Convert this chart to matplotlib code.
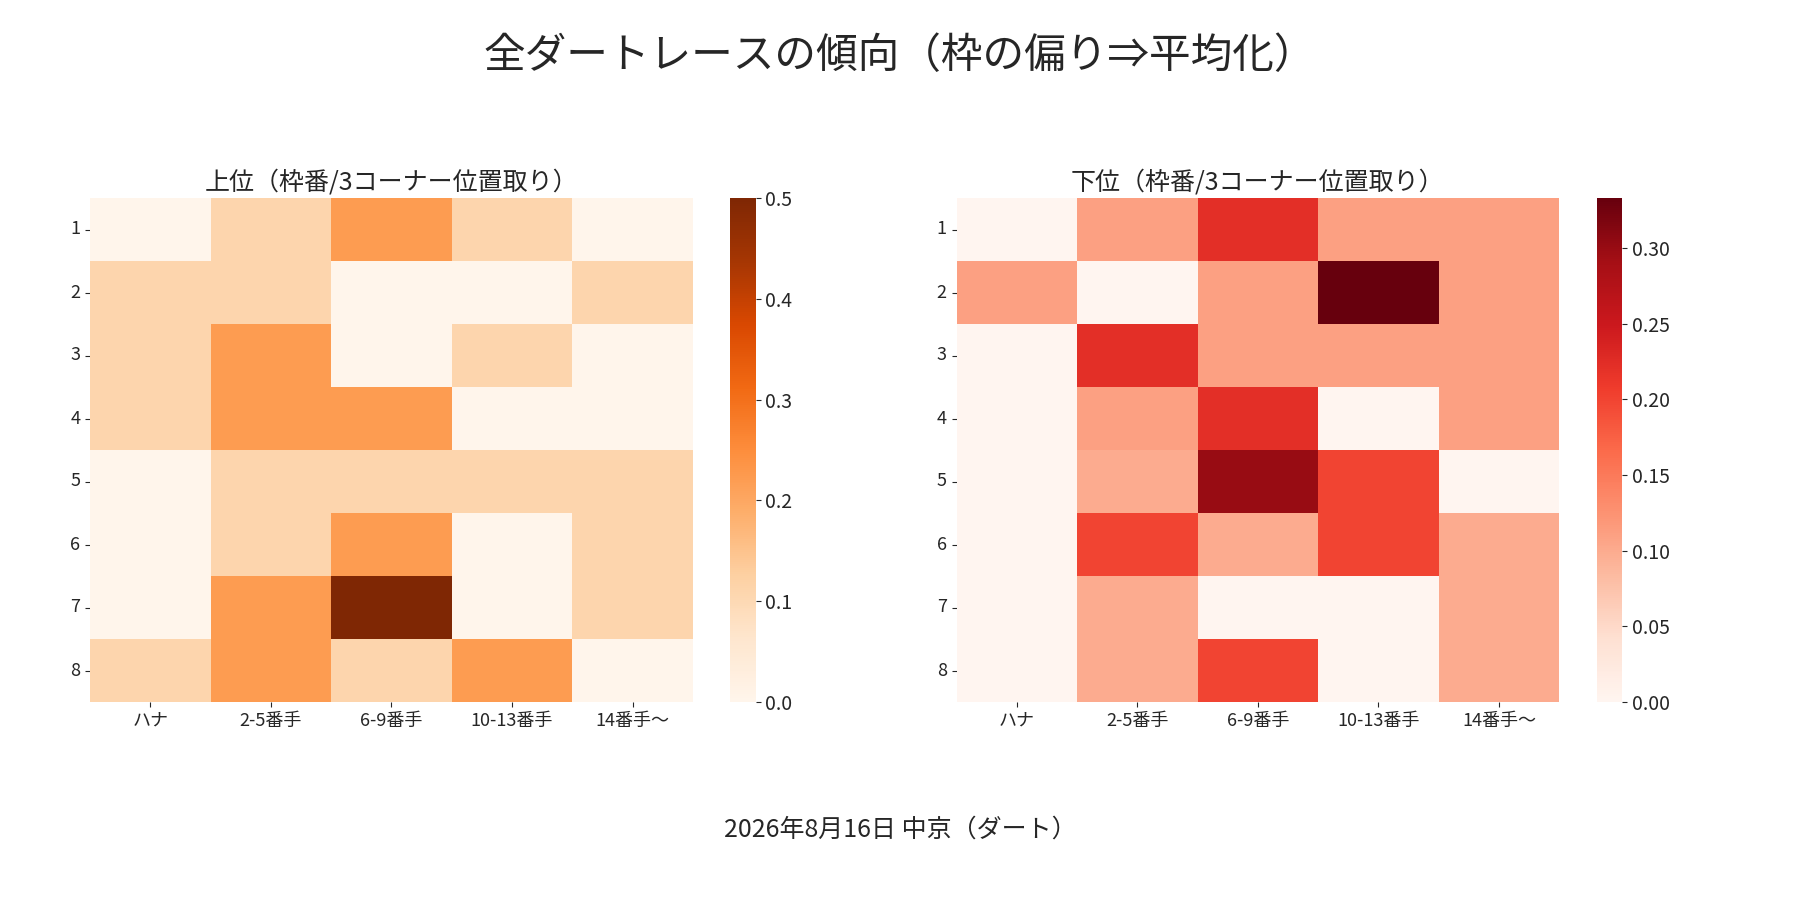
import numpy as np
import seaborn as sns
from matplotlib import pyplot as plt

sns.set_style("ticks")
plt.rcParams['font.family'] = ['Noto Sans CJK JP', 'DejaVu Sans']

cols = ["ハナ", "2-5番手", "6-9番手", "10-13番手", "14番手〜"]
rows = ["1", "2", "3", "4", "5", "6", "7", "8"]

upper = np.array([
    [0.0, 0.111, 0.222, 0.111, 0.0],
    [0.111, 0.111, 0.0, 0.0, 0.111],
    [0.111, 0.222, 0.0, 0.111, 0.0],
    [0.111, 0.222, 0.222, 0.0, 0.0],
    [0.0, 0.111, 0.111, 0.111, 0.111],
    [0.0, 0.111, 0.222, 0.0, 0.111],
    [0.0, 0.222, 0.5, 0.0, 0.111],
    [0.111, 0.222, 0.111, 0.222, 0.0],
])
lower = np.array([
    [0.0, 0.111, 0.222, 0.111, 0.111],
    [0.111, 0.0, 0.111, 0.333, 0.111],
    [0.0, 0.222, 0.111, 0.111, 0.111],
    [0.0, 0.111, 0.222, 0.0, 0.111],
    [0.0, 0.1, 0.3, 0.2, 0.0],
    [0.0, 0.2, 0.1, 0.2, 0.1],
    [0.0, 0.1, 0.0, 0.0, 0.1],
    [0.0, 0.1, 0.2, 0.0, 0.1],
])

fig, axes = plt.subplots(1, 2, figsize=(18, 9), dpi=100)
sns.heatmap(upper, ax=axes[0], cmap="Oranges", vmin=0, vmax=0.5,
            xticklabels=cols, yticklabels=rows)
sns.heatmap(lower, ax=axes[1], cmap="Reds", vmin=0,
            xticklabels=cols, yticklabels=rows)
axes[0].set_title("上位（枠番/3コーナー位置取り）", fontsize=18)
axes[1].set_title("下位（枠番/3コーナー位置取り）", fontsize=18)
for ax in axes:
    ax.tick_params(labelsize=13, rotation=0)
    ax.collections[0].colorbar.ax.tick_params(labelsize=14)
fig.suptitle("全ダートレースの傾向（枠の偏り⇒平均化）", fontsize=30, y=0.96)
fig.text(0.5, 0.07, "2026年8月16日 中京（ダート）", ha="center", fontsize=18)
fig.subplots_adjust(left=0.05, right=0.95, top=0.78, bottom=0.22, wspace=0.15)
fig.savefig("out.png")
